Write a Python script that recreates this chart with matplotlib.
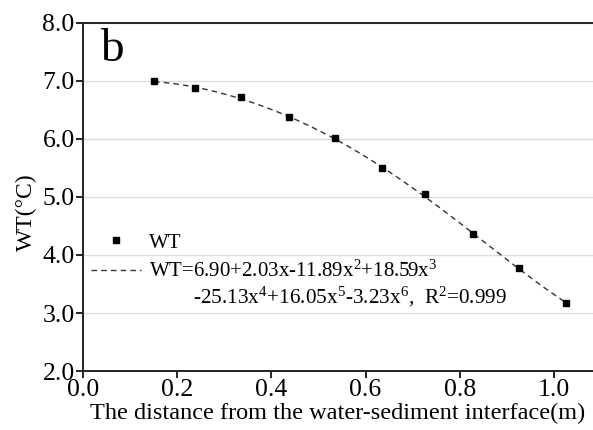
import matplotlib as mpl
mpl.use('Agg')
import matplotlib.pyplot as plt
import numpy as np

# ------------------------------------------------------------------ DATA
dist = [0.151, 0.238, 0.335, 0.437, 0.535, 0.635, 0.726, 0.828, 0.926, 1.025]
wt = [7.00, 6.885, 6.72, 6.375, 6.02, 5.50, 5.045, 4.355, 3.77, 3.18]
# fitted polynomial coefficients (x^0 ... x^6)
coef = [6.90, 2.03, -11.89, 18.59, -25.13, 16.05, -3.23]

yticks = [2.0, 3.0, 4.0, 5.0, 6.0, 7.0, 8.0]
xticks = [0.0, 0.2, 0.4, 0.6, 0.8, 1.0]

# ------------------------------------------------------------------ STYLE
plt.rcParams['font.family'] = ['Liberation Serif', 'Noto Sans CJK SC', 'DejaVu Sans']
plt.rcParams['mathtext.fontset'] = 'custom'
plt.rcParams['mathtext.rm'] = 'Liberation Serif'
plt.rcParams['mathtext.it'] = 'Liberation Serif'

fig = plt.figure(figsize=(5.93, 4.30), dpi=100)
ax = fig.add_axes([0.14, 0.137, 0.86, 0.81])

xs = np.linspace(dist[0], dist[-1], 200)
fit = np.polyval(coef[::-1], xs)

lab1 = 'WT=6.90+2.03x-11.89x$^2$+18.59x$^3$'
lab2 = '-25.13x$^4$+16.05x$^5$-3.23x$^6$,  R$^2$=0.999'
ax.plot(xs, fit, '--', color='#333333', lw=1.0, dashes=(4, 3), label=lab1, zorder=2)
ax.plot(dist, wt, 's', color='black', ms=5, ls='none', label='WT', zorder=3)

ax.set_xlim(0.0, 1.083)
ax.set_ylim(2.0, 8.0)
ax.set_xticks(xticks)
ax.set_yticks(yticks)
ax.set_xticklabels(['%.1f' % v for v in xticks])
ax.set_yticklabels(['%.1f' % v for v in yticks])
ax.tick_params(direction='out', labelsize=18.5, length=5, width=1.2, pad=1)
ax.yaxis.grid(True, color='#dddddd', lw=1.0)
ax.set_axisbelow(True)

for s in ['left', 'bottom', 'top']:
	ax.spines[s].set_linewidth(1.4)
	ax.spines[s].set_color('#222222')
ax.spines['right'].set_visible(False)

ax.set_xlabel('The distance from the water-sediment interface(m)', fontsize=17.5, labelpad=1)
ax.set_ylabel('WT(°C)', fontsize=17, labelpad=4)
ax.yaxis.set_label_coords(-0.091, 0.457)

ax.text(0.033, 0.985, 'b', transform=ax.transAxes, fontsize=34, va='top', ha='left')

h, l = ax.get_legend_handles_labels()
ax.legend(h[::-1], l[::-1], loc='upper left', bbox_to_anchor=(0.0, 0.42),
          frameon=False, fontsize=15, handlelength=2.4, handletextpad=0.35,
          labelspacing=0.4, borderaxespad=0.0)
ax.text(0.216, 0.213, lab2, transform=ax.transAxes, fontsize=15.3, va='center', ha='left')

fig.savefig('out.png', dpi=100)
